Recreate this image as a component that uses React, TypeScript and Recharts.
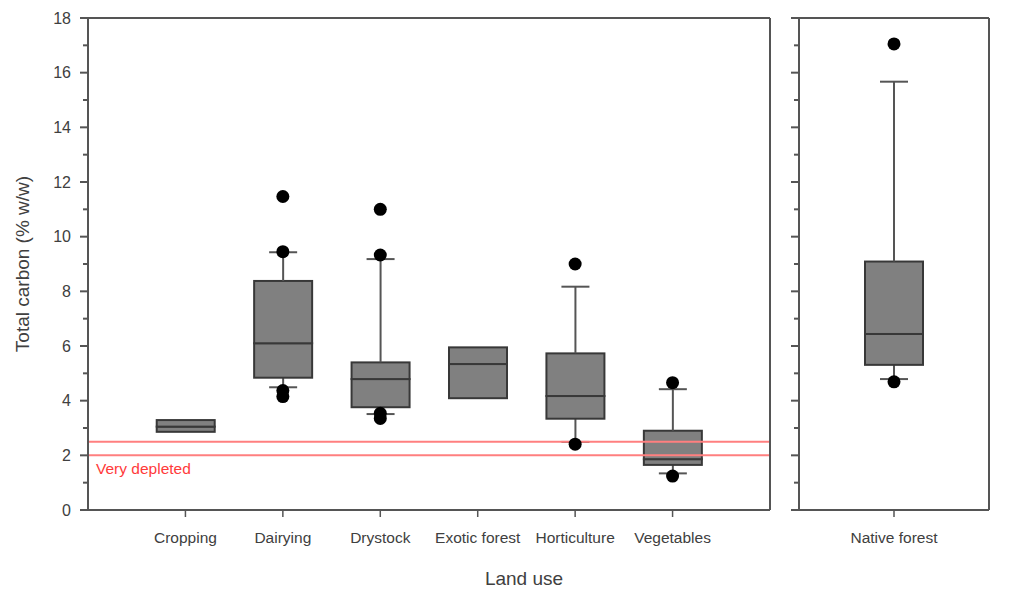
import React from 'react'
import { ComposedChart, Bar, Scatter, XAxis, YAxis, ReferenceLine } from 'recharts'

// 土地利用ごとの全炭素（箱ひげ図）
const categories = ['Cropping', 'Dairying', 'Drystock', 'Exotic forest', 'Horticulture', 'Vegetables']
const whiskerLow = [2.86, 4.49, 3.51, 4.09, 2.49, 1.34]
const q1 = [2.86, 4.84, 3.76, 4.09, 3.34, 1.65]
const median = [3.05, 6.1, 4.79, 5.34, 4.17, 1.86]
const q3 = [3.29, 8.38, 5.4, 5.95, 5.73, 2.9]
const whiskerHigh = [3.29, 9.43, 9.18, 5.95, 8.17, 4.42]
const outliers = [[], [11.47, 9.45, 4.37, 4.15], [11.0, 9.33, 3.54, 3.35], [], [9.0, 2.41], [4.66, 1.24]]

// 右パネル（天然林）
const nativeCategories = ['Native forest']
const nativeWhiskerLow = [4.79]
const nativeQ1 = [5.31]
const nativeMedian = [6.44]
const nativeQ3 = [9.09]
const nativeWhiskerHigh = [15.67]
const nativeOutliers = [[17.05, 4.69]]

const yTicks = [0, 1, 2, 3, 4, 5, 6, 7, 8, 9, 10, 11, 12, 13, 14, 15, 16, 17, 18]
const depletedLines = [2.5, 2]

const FONT = '"Liberation Sans", Arial, sans-serif'
const TEXT = '#404040'
const AXIS = '#555'

function buildRows(lo: number[], a: number[], m: number[], b: number[], hi: number[]) {
  return lo.map((v, i) => ({
    x: i + 1,
    base: v,
    lowW: a[i] - v,
    lowBox: m[i] - a[i],
    highBox: b[i] - m[i],
    highW: hi[i] - b[i],
  }))
}

function buildPoints(list: number[][]) {
  return list.flatMap((vals, i) => vals.map((v) => ({ x: i + 1, y: v })))
}

const Empty = () => <g />

const BoxPart = (p: any) =>
  p.height > 0 ? (
    <rect x={p.x} y={p.y} width={p.width} height={p.height} fill="#808080" stroke="#383838" strokeWidth={2} />
  ) : (
    <g />
  )

const makeWhisker = (side: 'low' | 'high') => (p: any) => {
  if (!(p.height > 0)) return <g />
  const cx = p.x + p.width / 2
  const capY = side === 'low' ? p.y + p.height : p.y
  return (
    <g stroke={AXIS} strokeWidth={2}>
      <line x1={cx} x2={cx} y1={p.y} y2={p.y + p.height} />
      <line x1={cx - 14} x2={cx + 14} y1={capY} y2={capY} />
    </g>
  )
}

const Dot = (p: any) => <circle cx={p.cx} cy={p.cy} r={6.5} fill="#000" />

// 目盛り（偶数は長く、奇数は短く）
const makeTick = (side: 'left' | 'right', dir: 1 | -1, labels: boolean) => (p: any) => {
  const v = p.payload.value
  const major = v % 2 === 0
  const len = major ? 8 : 5
  // tx = 軸線 ∓ tickSize
  const lineX = side === 'left' ? p.x + 8 : p.x - 8
  return (
    <g>
      <line x1={lineX} x2={lineX + dir * len} y1={p.y} y2={p.y} stroke={AXIS} strokeWidth={2} />
      {labels && major && (
        <text
          x={side === 'left' ? lineX - 17 : lineX + 17}
          y={p.y}
          dy="0.36em"
          textAnchor={side === 'left' ? 'end' : 'start'}
          fill={TEXT}
          fontSize={16}
          fontFamily={FONT}
        >
          {v}
        </text>
      )}
    </g>
  )
}

function Panel({ rows, points, names, width, leftW, rightW, xMax, showLeftLabels, showRightLabels, innerRight, withRef }: any) {
  return (
    <ComposedChart width={width} height={593} data={rows} margin={{ top: 18, right: 0, bottom: 0, left: 0 }}>
      <XAxis
        dataKey="x"
        type="number"
        domain={[0, xMax]}
        ticks={names.map((_: string, i: number) => i + 1)}
        interval={0}
        tickFormatter={(v: number) => names[v - 1]}
        height={83}
        tickSize={7}
        tickMargin={15}
        stroke={AXIS}
        axisLine={{ stroke: AXIS, strokeWidth: 2 }}
        tickLine={{ stroke: AXIS, strokeWidth: 1.5 }}
        tick={{ fill: TEXT, fontSize: 15.5, fontFamily: FONT }}
        label={
          withRef
            ? { value: 'Land use', position: 'insideBottom', offset: 8, dx: 95, fill: TEXT, fontSize: 19, fontFamily: FONT }
            : undefined
        }
      />
      <YAxis
        yAxisId="l"
        orientation="left"
        width={leftW}
        domain={[0, 18]}
        ticks={yTicks}
        interval={0}
        tickSize={8}
        tickMargin={0}
        tickLine={false}
        axisLine={{ stroke: AXIS, strokeWidth: 2 }}
        tick={makeTick('left', -1, showLeftLabels)}
        label={
          showLeftLabels
            ? {
                value: 'Total carbon (% w/w)',
                angle: -90,
                position: 'insideLeft',
                offset: 22,
                style: { textAnchor: 'middle', fill: TEXT, fontSize: 19, fontFamily: FONT },
              }
            : undefined
        }
      />
      <YAxis
        yAxisId="r"
        orientation="right"
        width={rightW}
        domain={[0, 18]}
        ticks={yTicks}
        interval={0}
        tickSize={8}
        tickMargin={0}
        tickLine={false}
        axisLine={{ stroke: AXIS, strokeWidth: 2 }}
        tick={makeTick('right', innerRight ? -1 : 1, showRightLabels)}
      />
      <ReferenceLine yAxisId="l" y={18} stroke={AXIS} strokeWidth={2} />
      {withRef &&
        depletedLines.map((v, i) => (
          <ReferenceLine
            key={v}
            yAxisId="l"
            y={v}
            stroke="#ff7f7f"
            strokeWidth={2}
            label={
              i === 1
                ? { value: 'Very depleted', position: 'insideTopLeft', offset: 8, fill: '#ff3a3a', fontSize: 15.5, fontFamily: FONT }
                : undefined
            }
          />
        ))}
      <Bar yAxisId="l" dataKey="base" stackId="b" barSize={58} shape={Empty} isAnimationActive={false} />
      <Bar yAxisId="l" dataKey="lowW" stackId="b" barSize={58} shape={makeWhisker('low')} isAnimationActive={false} />
      <Bar yAxisId="l" dataKey="lowBox" stackId="b" barSize={58} shape={BoxPart} isAnimationActive={false} />
      <Bar yAxisId="l" dataKey="highBox" stackId="b" barSize={58} shape={BoxPart} isAnimationActive={false} />
      <Bar yAxisId="l" dataKey="highW" stackId="b" barSize={58} shape={makeWhisker('high')} isAnimationActive={false} />
      <Scatter yAxisId="l" data={points} dataKey="y" shape={Dot} isAnimationActive={false} />
    </ComposedChart>
  )
}

export default function App() {
  const rows = buildRows(whiskerLow, q1, median, q3, whiskerHigh)
  const points = buildPoints(outliers)
  const nRows = buildRows(nativeWhiskerLow, nativeQ1, nativeMedian, nativeQ3, nativeWhiskerHigh)
  const nPoints = buildPoints(nativeOutliers)

  return (
    <div style={{ position: 'absolute', left: 0, top: 0, width: 1030, height: 593, background: '#fff' }}>
      <div style={{ position: 'absolute', left: 0, top: 0 }}>
        <Panel
          rows={rows}
          points={points}
          names={categories}
          width={780}
          leftW={88}
          rightW={10}
          xMax={7}
          showLeftLabels
          showRightLabels={false}
          innerRight
          withRef
        />
      </div>
      <div style={{ position: 'absolute', left: 780, top: 0 }}>
        <Panel
          rows={nRows}
          points={nPoints}
          names={nativeCategories}
          width={250}
          leftW={19}
          rightW={41}
          xMax={2}
          showLeftLabels={false}
          showRightLabels
          innerRight={false}
          withRef={false}
        />
      </div>
    </div>
  )
}
